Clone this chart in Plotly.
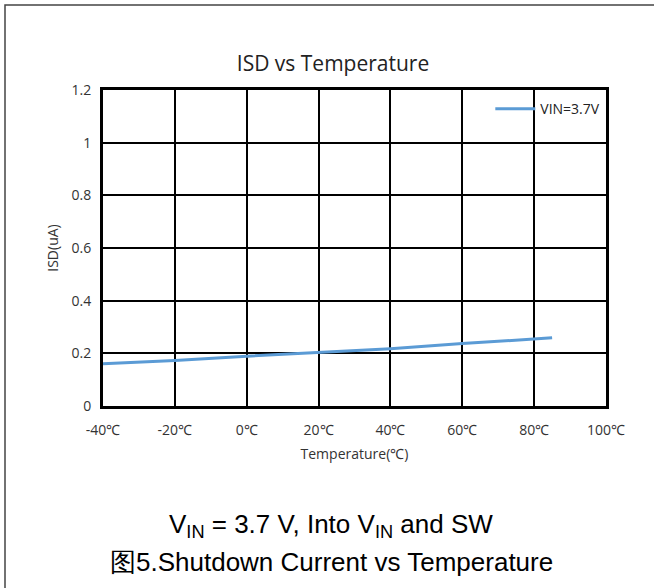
import plotly.graph_objects as go

temps = [-40, -20, 0, 20, 40, 60, 80, 85]
isd_ua = [0.160, 0.173, 0.189, 0.204, 0.217, 0.237, 0.254, 0.259]
series_name = "VIN=3.7V"
x_tickvals = [-40, -20, 0, 20, 40, 60, 80, 100]
x_ticktext = ["-40\u2103", "-20\u2103", "0\u2103", "20\u2103", "40\u2103", "60\u2103", "80\u2103", "100\u2103"]
y_tickvals = [0, 0.2, 0.4, 0.6, 0.8, 1.0, 1.2]
y_ticktext = ["0", "0.2", "0.4", "0.6", "0.8", "1", "1.2"]

fig = go.Figure()
fig.add_trace(go.Scatter(x=temps, y=isd_ua, mode="lines", name=series_name,
                         line=dict(color="#5b9bd5", width=3)))

axis_font = dict(family="Open Sans, Lato, sans-serif", size=14, color="#333333")
fig.update_layout(
    width=654, height=588,
    margin=dict(l=103, r=48, t=90, b=182),
    paper_bgcolor="white", plot_bgcolor="white",
    title=dict(text="ISD vs Temperature", x=333/654, xanchor="center",
               y=1 - 64/588, yanchor="middle",
               font=dict(family="Open Sans, Lato, sans-serif", size=21, color="#222222")),
    showlegend=True,
    legend=dict(x=0.77, y=0.99, xanchor="left", yanchor="top", bgcolor="rgba(0,0,0,0)",
                font=dict(family="Open Sans, Lato, sans-serif", size=14, color="#222222"),
                itemwidth=40, tracegroupgap=0),
    xaxis=dict(range=[-40, 100], tickvals=x_tickvals, ticktext=x_ticktext,
               showgrid=True, gridcolor="black", gridwidth=2,
               showline=True, linecolor="black", linewidth=3, mirror=True,
               zeroline=False, ticks="", tickfont=axis_font, ticklabelstandoff=9,
               title=dict(text="Temperature(\u2103)", font=axis_font, standoff=12)),
    yaxis=dict(range=[0, 1.2], tickvals=y_tickvals, ticktext=y_ticktext,
               showgrid=True, gridcolor="black", gridwidth=2,
               showline=True, linecolor="black", linewidth=3, mirror=True,
               zeroline=False, ticks="", tickfont=axis_font, ticklabelstandoff=6,
               title=dict(text="ISD(uA)", font=axis_font, standoff=10)),
    shapes=[dict(type="rect", xref="paper", yref="paper",
                 x0=-98/503, x1=1 + 60/503, y0=-200/316, y1=1 + 85/316,
                 line=dict(color="#444444", width=1.5), fillcolor="rgba(0,0,0,0)", layer="below")],
)

cap_font = dict(family="Liberation Sans, Arial, sans-serif", size=26, color="black")
fig.add_annotation(text="V<sub>IN</sub> = 3.7 V, Into V<sub>IN</sub> and SW", xref="paper", yref="paper",
                   x=(331 - 103)/503, y=-(525 - 406)/316, xanchor="center", yanchor="middle",
                   showarrow=False, font=cap_font)
fig.add_annotation(text="\u56fe5.Shutdown Current vs Temperature", xref="paper", yref="paper",
                   x=(331 - 103)/503, y=-(562 - 406)/316, xanchor="center", yanchor="middle",
                   showarrow=False, font=cap_font)

fig.write_html("out.html")
